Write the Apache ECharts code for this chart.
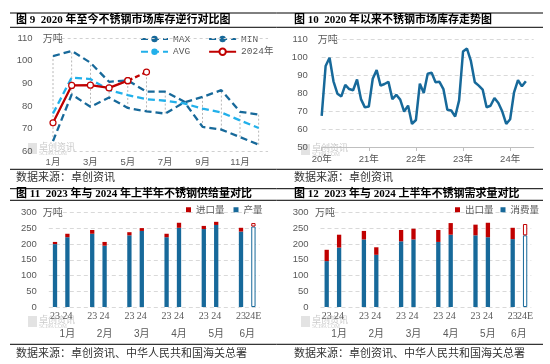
<!DOCTYPE html>
<html><head><meta charset="utf-8">
<script src="https://cdn.jsdelivr.net/npm/echarts@6/dist/echarts.min.js"></script>
<style>html,body{margin:0;padding:0;background:#fff}#c{width:550px;height:364px}</style>
</head><body><div id="c"></div>
<script>
// ---------- Panel 1: monthly inventory comparison ----------
const p1Months = ['1月','2月','3月','4月','5月','6月','7月','8月','9月','10月','11月','12月'];
const p1Max = [102.1,104.4,99.2,90.7,91.3,86.3,86.3,82.0,70.7,69.5,66.2,62.8];
const p1Min = [64.4,85.1,79.6,83.7,79.1,77.6,76.6,81.5,84.0,87.0,77.4,76.2];
const p1Avg = [76.6,92.6,91.9,87.0,84.8,83.0,82.3,81.1,78.8,77.1,73.6,70.2];
const p1Y2024 = [72.5,89.1,89.2,88.0,91.2,95.0];
const p1EstFrom = 4; // last segment (May -> Jun) drawn dashed

// ---------- Panel 2: inventory trend since 2020 ----------
const p2YearLabels = ['20年','21年','22年','23年','24年'];
const p2Stock = [67.3,95,99.6,86.5,79.6,78.1,84.5,82.2,81.5,87.5,76.6,72,
  72.5,87.9,92.7,84.1,85,86.2,76.6,79,76.3,69.7,73,62.8,
  65,85.2,80,90.7,91.2,86,86.2,82.2,70.7,70.3,66.9,75.9,
  103,104.7,97.8,86,84.1,81.9,72.1,72.9,77.2,74.4,69.7,62.8,
  65.4,80.4,87.1,83.7,86.5];

// ---------- Panels 3 & 4: H1 2023 vs 2024 ----------
const p34Cats = ['23','24','','23','24','','23','24','','23','24','','23','24','','23','24E'];
const p34Months = ['1月','2月','3月','4月','5月','6月'];
const p3Output = [200,222,null,233,195,null,228,242,null,222,252,null,248,261,null,240,256];
const p3Import = [7,11,null,12,12,null,10,9,null,11,16,null,10,10,null,12,11];
const p4Consume = [146,189,null,215,166,null,209,215,null,207,230,null,228,222,null,216,228];
const p4Export = [36,41,null,27,24,null,36,34,null,38,37,null,34,46,null,36,36];

const BLUE = '#17699a', RED = '#c00000', CYAN = '#22b0ea', GRAY = '#595959';
const SANS = '"Liberation Sans","Noto Sans CJK SC",sans-serif';
const CJK = '"Noto Sans CJK SC",sans-serif';

// derived helpers
const hiLo = p1Months.map((m, i) => {
  const v = [p1Max[i], p1Min[i], p1Avg[i]];
  if (i < p1Y2024.length) v.push(p1Y2024[i]);
  return [i, Math.min.apply(null, v), Math.max.apply(null, v)];
});
const y2024Solid = p1Months.map((m, i) => i <= p1EstFrom ? p1Y2024[i] : null);
const y2024Est = p1Months.map((m, i) => (i >= p1EstFrom && i < p1Y2024.length) ? p1Y2024[i] : null);

const p2Cats = [];
for (let i = 0; i < 55; i++) p2Cats.push(i % 12 === 0 && p2YearLabels[i / 12] ? p2YearLabels[i / 12] : '');

const monthAxis = new Array(35).fill('');
[3, 9, 15, 21, 27, 32].forEach((pos, k) => monthAxis[pos] = p34Months[k]);

function hollowLast(arr, color) {
  return arr.map((v, i) => i === arr.length - 1
    ? { value: v, itemStyle: { color: '#fff', borderColor: color, borderWidth: 1 } } : v);
}

function catAxisLabels(grid, data) {
  return {
    type: 'category', gridIndex: grid, data: data, boundaryGap: true, position: 'bottom',
    axisLine: { show: false }, axisTick: { show: false },
    axisLabel: { interval: 0, color: GRAY, fontSize: 10, fontFamily: '"Liberation Serif",serif', margin: 4, hideOverlap: false }
  };
}
function monthAxisDef(grid) {
  return { type: 'category', gridIndex: grid, data: monthAxis, boundaryGap: false, position: 'bottom', offset: 0,
    axisLine: { show: false }, axisTick: { show: false },
    axisLabel: { interval: 0, color: GRAY, fontSize: 10, fontFamily: SANS, margin: 22, hideOverlap: false } };
}

const gridBase = { containLabel: false, outerBoundsMode: 'none' };

const option = {
  animation: false,
  backgroundColor: '#fff',
  grid: [
    Object.assign({ left: 43.65, top: 38.3, width: 224.4, height: 112.7 }, gridBase),
    Object.assign({ left: 321.7, top: 39, width: 212, height: 108 }, gridBase),
    Object.assign({ left: 48.8, top: 212.7, width: 210.8, height: 94.3 }, gridBase),
    Object.assign({ left: 320.5, top: 212.7, width: 210.8, height: 94.3 }, gridBase)
  ],
  legend: [
    { data: ['MAX', 'MIN'], left: 140, top: 34, padding: 0, itemWidth: 27, itemHeight: 8, itemGap: 18,
      textStyle: { fontSize: 9.5, color: GRAY, fontFamily: '"Liberation Mono",monospace' } },
    { data: ['AVG', '2024年'], left: 140, top: 47, padding: 0, itemWidth: 27, itemHeight: 8, itemGap: 18,
      textStyle: { fontSize: 9.5, color: GRAY, fontFamily: '"Liberation Mono","Noto Sans CJK SC",monospace' } },
    { data: ['进口量', '产量'], left: 186, top: 205, padding: 0, icon: 'rect', itemWidth: 5, itemHeight: 5, itemGap: 9,
      textStyle: { fontSize: 9.5, color: GRAY, fontFamily: CJK } },
    { data: ['出口量', '消费量'], left: 455, top: 205, padding: 0, icon: 'rect', itemWidth: 5, itemHeight: 5, itemGap: 7,
      textStyle: { fontSize: 9.5, color: GRAY, fontFamily: CJK } }
  ],
  xAxis: [
    { type: 'category', gridIndex: 0, data: p1Months, boundaryGap: true,
      axisLine: { show: false }, axisTick: { show: false },
      axisLabel: { interval: 1, color: GRAY, fontSize: 9.5, fontFamily: SANS, margin: 7 } },
    { type: 'category', gridIndex: 1, data: p2Cats, boundaryGap: false,
      axisLine: { show: true, lineStyle: { color: '#bfbfbf', width: 1 } },
      axisTick: { show: true, length: 4, interval: (i) => i % 12 === 0, lineStyle: { color: '#bfbfbf' } },
      axisLabel: { interval: 0, color: GRAY, fontSize: 9.5, fontFamily: SANS, margin: 8, hideOverlap: false } },
    catAxisLabels(2, p34Cats),
    monthAxisDef(2),
    catAxisLabels(3, p34Cats),
    monthAxisDef(3)
  ],
  yAxis: [
    { type: 'value', gridIndex: 0, min: 60, max: 110, interval: 10,
      splitLine: { show: false }, axisLine: { show: false }, axisTick: { show: false },
      axisLabel: { color: GRAY, fontSize: 9.5, fontFamily: SANS, margin: 11 } },
    { type: 'value', gridIndex: 1, min: 50, max: 110, interval: 10,
      splitLine: { show: true, lineStyle: { color: '#d9d9d9', type: [4, 3] } },
      axisLine: { show: false }, axisTick: { show: false },
      axisLabel: { color: GRAY, fontSize: 9.5, fontFamily: SANS, margin: 14 } },
    { type: 'value', gridIndex: 2, min: 0, max: 300, interval: 50,
      splitLine: { show: true, lineStyle: { color: '#d9d9d9', type: [4, 3] } },
      axisLine: { show: false }, axisTick: { show: false },
      axisLabel: { color: GRAY, fontSize: 9.5, fontFamily: SANS, margin: 12 } },
    { type: 'value', gridIndex: 3, min: 0, max: 300, interval: 50,
      splitLine: { show: true, lineStyle: { color: '#d9d9d9', type: [4, 3] } },
      axisLine: { show: false }, axisTick: { show: false },
      axisLabel: { color: GRAY, fontSize: 9.5, fontFamily: SANS, margin: 12 } }
  ],
  series: [
    { type: 'custom', xAxisIndex: 0, yAxisIndex: 0, silent: true, z: 1,
      data: hiLo, encode: { x: 0, y: [1, 2] },
      renderItem: function (params, api) {
        const a = api.coord([api.value(0), api.value(1)]);
        const b = api.coord([api.value(0), api.value(2)]);
        return { type: 'line', shape: { x1: a[0], y1: a[1], x2: b[0], y2: b[1] },
          style: { stroke: '#a6a6a6', lineWidth: 0.8, lineDash: [2, 2] } };
      } },
    { name: 'MAX', type: 'line', xAxisIndex: 0, yAxisIndex: 0, data: p1Max, symbol: 'none', z: 3,
      lineStyle: { color: BLUE, width: 2.3, type: [7, 4] }, itemStyle: { color: BLUE },
      markLine: { silent: true, symbol: 'none', label: { show: false },
        lineStyle: { color: '#d0d0d0', type: [3, 3], width: 1 },
        data: [{ yAxis: 110 }, { yAxis: 60 }] } },
    { name: 'MIN', type: 'line', xAxisIndex: 0, yAxisIndex: 0, data: p1Min, symbol: 'none', z: 3,
      lineStyle: { color: BLUE, width: 2.3, type: [7, 4] }, itemStyle: { color: BLUE } },
    { name: 'AVG', type: 'line', xAxisIndex: 0, yAxisIndex: 0, data: p1Avg, symbol: 'none', z: 3,
      lineStyle: { color: CYAN, width: 2.3, type: [7, 4] }, itemStyle: { color: CYAN } },
    { name: '2024年', type: 'line', xAxisIndex: 0, yAxisIndex: 0, data: y2024Solid, z: 5,
      symbol: 'circle', symbolSize: 6, showSymbol: true,
      lineStyle: { color: RED, width: 2.3 }, itemStyle: { color: '#fff', borderColor: RED, borderWidth: 1.2 } },
    { name: '2024年E', type: 'line', xAxisIndex: 0, yAxisIndex: 0, data: y2024Est, z: 4,
      symbol: 'circle', symbolSize: 6,
      lineStyle: { color: RED, width: 2.3, type: [5, 3] }, itemStyle: { color: '#fff', borderColor: RED, borderWidth: 1.2 } },

    { name: '库存', type: 'line', xAxisIndex: 1, yAxisIndex: 1, data: p2Stock, symbol: 'none',
      lineStyle: { color: BLUE, width: 2.5 } },

    { name: '产量', type: 'bar', xAxisIndex: 2, yAxisIndex: 2, stack: 's3', barWidth: 4.3,
      itemStyle: { color: BLUE }, data: hollowLast(p3Output, BLUE) },
    { name: '进口量', type: 'bar', xAxisIndex: 2, yAxisIndex: 2, stack: 's3', barWidth: 4.3,
      itemStyle: { color: RED }, data: hollowLast(p3Import, RED) },
    { name: '消费量', type: 'bar', xAxisIndex: 4, yAxisIndex: 3, stack: 's4', barWidth: 4.3,
      itemStyle: { color: BLUE }, data: hollowLast(p4Consume, BLUE) },
    { name: '出口量', type: 'bar', xAxisIndex: 4, yAxisIndex: 3, stack: 's4', barWidth: 4.3,
      itemStyle: { color: RED }, data: hollowLast(p4Export, RED) }
  ],
  graphic: []
};

const G = option.graphic;
// rules
[13, 27.3, 169.3, 188.7, 200.3, 344.3].forEach(y => G.push({ type: 'line', silent: true,
  shape: { x1: 10, y1: y, x2: 543, y2: y }, style: { stroke: '#000', lineWidth: 1 } }));
function txt(s, x, y, size, opts) {
  G.push({ type: 'text', silent: true, x: x, y: y, style: Object.assign({ text: s, fontSize: size,
    fill: GRAY, fontFamily: CJK, verticalAlign: 'middle', align: 'left' }, opts || {}) });
}
const TITLEF = '"Liberation Serif","Noto Sans CJK SC",serif';
txt('图 9  2020 年至今不锈钢市场库存逆行对比图', 16, 20, 11, { fill: '#000', fontWeight: 'bold', fontFamily: TITLEF });
txt('图 10  2020 年以来不锈钢市场库存走势图', 294, 20, 11, { fill: '#000', fontWeight: 'bold', fontFamily: TITLEF });
txt('图 11  2023 年与 2024 年上半年不锈钢供给量对比', 16, 194.3, 11, { fill: '#000', fontWeight: 'bold', fontFamily: TITLEF });
txt('图 12  2023 年与 2024 上半年不锈钢需求量对比', 294, 194.3, 11, { fill: '#000', fontWeight: 'bold', fontFamily: TITLEF });
txt('数据来源：卓创资讯', 16, 177, 11, { fill: '#333' });
txt('数据来源：卓创资讯', 294, 177, 11, { fill: '#333' });
txt('数据来源：卓创资讯、中华人民共和国海关总署', 16, 352.7, 11, { fill: '#333' });
txt('数据来源：卓创资讯、中华人民共和国海关总署', 294, 352.7, 11, { fill: '#333' });
txt('万吨', 42.7, 38.3, 10);
txt('万吨', 317.7, 39, 10);
txt('万吨', 42.7, 212.7, 10);
txt('万吨', 315, 212.7, 10);
// watermarks
[[28, 149], [301, 150], [28, 322], [301, 322]].forEach(p => {
  G.push({ type: 'rect', silent: true, shape: { x: p[0], y: p[1] - 6, width: 9, height: 11 }, style: { fill: '#e3e3e3' } });
  txt('卓创资讯', p[0] + 11, p[1] - 2, 9, { fill: '#c9c9c9' });
  txt('SCI99.COM', p[0] + 11, p[1] + 5, 5.5, { fill: '#cfcfcf', fontFamily: '"Liberation Serif",serif' });
});

const chart = echarts.init(document.getElementById('c'), null, { renderer: 'canvas' });
chart.setOption(option);
</script>
</body></html>
